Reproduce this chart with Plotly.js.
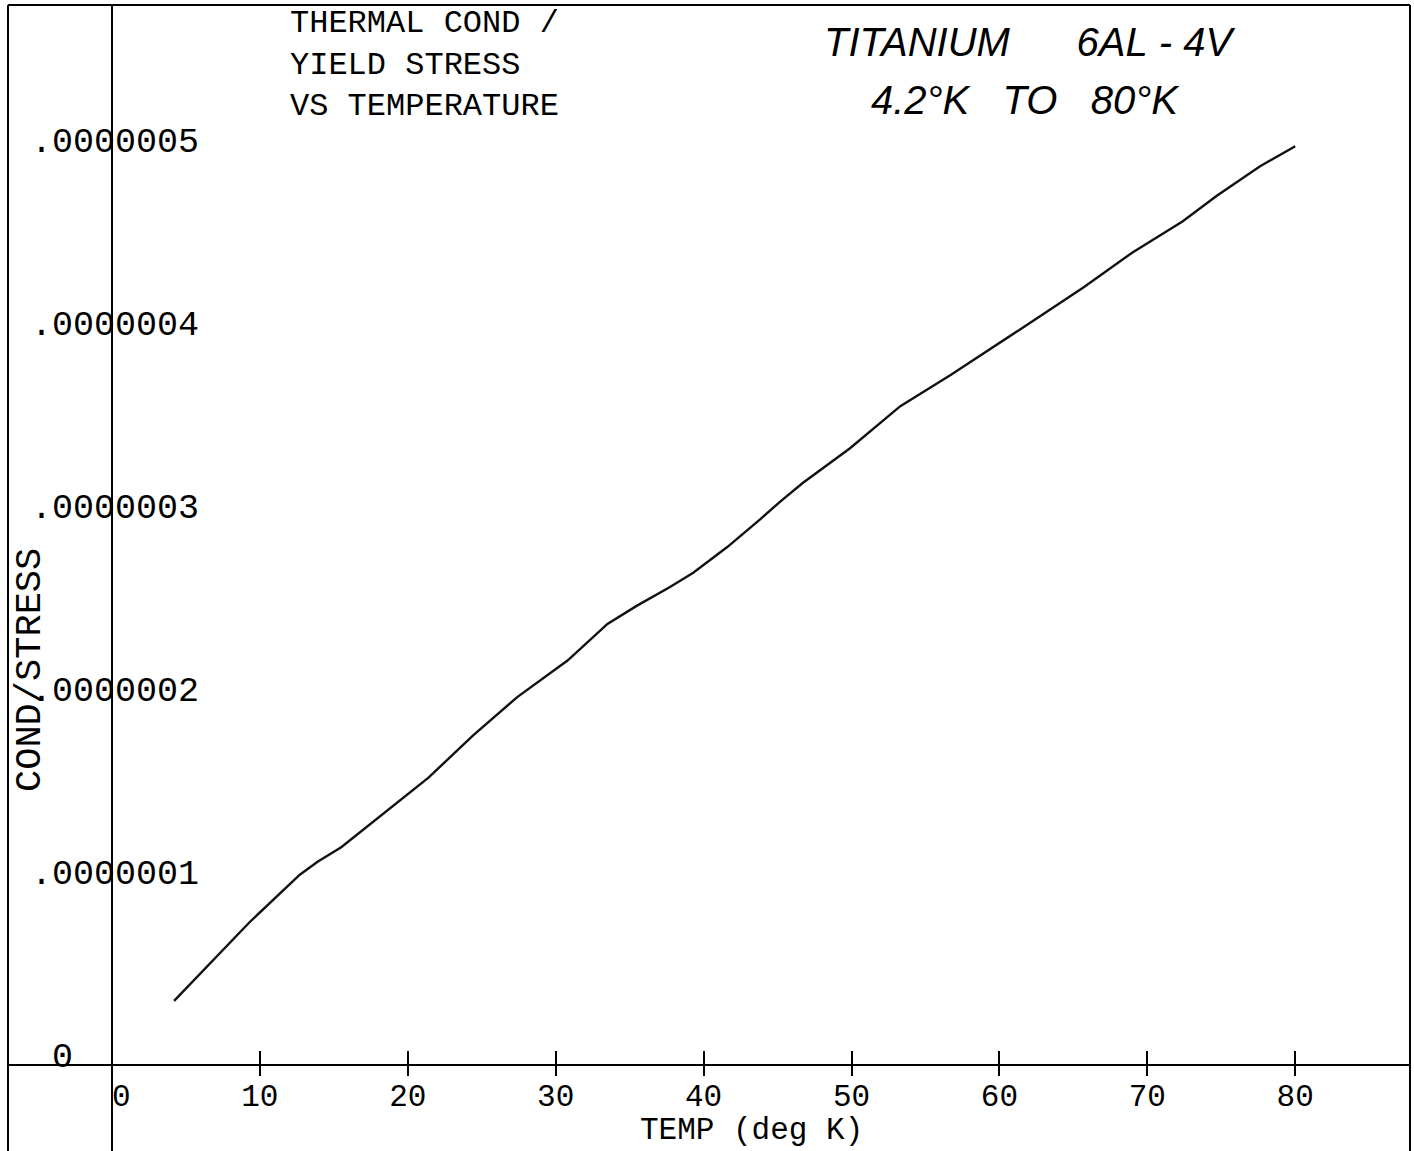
<!DOCTYPE html>
<html><head><meta charset="utf-8">
<script src="https://cdn.plot.ly/plotly-3.0.1.min.js"></script>
<style>html,body{margin:0;padding:0;background:#fff}#chart{width:1414px;height:1151px}</style>
</head><body><div id="chart"></div>
<script>
// ---- data ----
const TEMP_K = [4.2, 9.3, 12.7, 13.9, 15.5, 18.3, 21.4, 24.4, 27.4, 30.8, 33.5, 35.5, 37.7, 39.3, 41.6, 43.8, 45.2, 46.7, 49.9, 53.3, 56.7, 61.6, 65.7, 69.0, 72.4, 74.7, 77.6, 80.0];
const COND_PER_STRESS = [3.5e-8, 7.8e-8, 1.04e-7, 1.11e-7, 1.19e-7, 1.37e-7, 1.57e-7, 1.80e-7, 2.01e-7, 2.21e-7, 2.41e-7, 2.51e-7, 2.61e-7, 2.69e-7, 2.83e-7, 2.98e-7, 3.08e-7, 3.18e-7, 3.37e-7, 3.60e-7, 3.77e-7, 4.03e-7, 4.25e-7, 4.44e-7, 4.61e-7, 4.75e-7, 4.91e-7, 5.02e-7];
const X_TICK_VALS = [0, 10, 20, 30, 40, 50, 60, 70, 80];
const X_TICK_TEXT = ["\u00a00", "10", "20", "30", "40", "50", "60", "70", "80"];
const Y_TICK_VALS = [0, 1e-7, 2e-7, 3e-7, 4e-7, 5e-7];
const Y_TICK_TEXT = ["0\u00a0\u00a0\u00a0\u00a0\u00a0\u00a0", ".0000001", ".0000002", ".0000003", ".0000004", ".0000005"];
const TITLE_LINES = ["THERMAL COND /", "YIELD STRESS", "VS TEMPERATURE"];
const NOTE_LINES = ["TITANIUM\u00a0\u00a0\u00a0\u00a0\u00a0\u00a06AL\u00a0-\u00a04V", "4.2°K\u00a0\u00a0\u00a0TO\u00a0\u00a0\u00a080°K"];
const X_TITLE = "TEMP (deg K)";
const Y_TITLE = "COND/STRESS";

// ---- layout ----
const W = 1414, H = 1151;
const M = {l: 8, r: 4, t: 5, b: 0, pad: 0};
const PW = W - M.l - M.r, PH = H - M.t - M.b;
const xRange = [-7.03, 87.76];
const yRange = [-4.70e-8, 5.792e-7];
const xAxisPos = (0 - yRange[0]) / (yRange[1] - yRange[0]);
const yAxisPos = (0 - xRange[0]) / (xRange[1] - xRange[0]);
const px = v => (v - M.l) / PW;
const py = v => (H - M.b - v) / PH;

const MONO = "Liberation Mono, DejaVu Sans Mono, monospace";
const HAND = "Liberation Sans, DejaVu Sans, sans-serif";

const traces = [
  {x: TEMP_K, y: COND_PER_STRESS, type: 'scatter', mode: 'lines',
   line: {color: '#111', width: 2.4}, hoverinfo: 'x+y', showlegend: false},
  {x: [], y: [], xaxis: 'x2', yaxis: 'y', type: 'scatter', mode: 'lines', showlegend: false, hoverinfo: 'skip'},
  {x: [], y: [], xaxis: 'x', yaxis: 'y2', type: 'scatter', mode: 'lines', showlegend: false, hoverinfo: 'skip'}
];

const layout = {
  width: W, height: H, margin: M,
  paper_bgcolor: '#fff', plot_bgcolor: '#fff',
  showlegend: false,
  title: {text: TITLE_LINES.join('<br>'), x: 290 / W, xref: 'container', xanchor: 'left',
          y: 1 - 32 / H, yref: 'container', yanchor: 'top',
          font: {family: MONO, size: 32, color: '#000'}},
  xaxis: {range: xRange, anchor: 'free', position: xAxisPos,
          showline: true, linecolor: '#000', linewidth: 2,
          ticks: 'outside', ticklen: 10, tickwidth: 2, tickcolor: '#000',
          tickvals: X_TICK_VALS, ticktext: X_TICK_TEXT, ticklabelstandoff: -7,
          tickfont: {family: MONO, size: 31, color: '#000'},
          showgrid: false, zeroline: false, fixedrange: true},
  xaxis2: {matches: 'x', overlaying: 'x', anchor: 'free', position: xAxisPos,
           showline: false, ticks: 'inside', ticklen: 14, tickwidth: 2, tickcolor: '#000',
           tickvals: X_TICK_VALS.slice(1), showticklabels: false,
           showgrid: false, zeroline: false, fixedrange: true},
  yaxis: {range: yRange, anchor: 'free', position: px(199), side: 'left',
          showgrid: false, zeroline: false, showline: false, ticks: '',
          tickvals: Y_TICK_VALS, ticktext: Y_TICK_TEXT,
          tickfont: {family: MONO, size: 35, color: '#000'},
          ticklabelposition: 'outside', ticklabelshift: -10,
          fixedrange: true},
  yaxis2: {matches: 'y', overlaying: 'y', anchor: 'free', position: yAxisPos,
           showline: true, linecolor: '#000', linewidth: 2, ticks: '',
           showticklabels: false, showgrid: false, zeroline: false, fixedrange: true},
  shapes: [
    {type: 'line', xref: 'paper', yref: 'paper', x0: 0, x1: 0, y0: -0.01, y1: 1, line: {color: '#000', width: 2}},
    {type: 'line', xref: 'paper', yref: 'paper', x0: 0, x1: 1, y0: 1, y1: 1, line: {color: '#000', width: 2}},
    {type: 'line', xref: 'paper', yref: 'paper', x0: 1, x1: 1, y0: -0.01, y1: 1, line: {color: '#000', width: 2}}
  ],
  annotations: [
    {text: X_TITLE, xref: 'paper', yref: 'paper', x: px(751), y: py(1150), xanchor: 'center', yanchor: 'bottom',
     showarrow: false, font: {family: MONO, size: 31, color: '#000'}},
    {text: Y_TITLE, xref: 'paper', yref: 'paper', x: px(30), y: py(670), xanchor: 'center', yanchor: 'middle',
     textangle: -90, showarrow: false, font: {family: MONO, size: 37, color: '#000'}},
    {text: NOTE_LINES[0], xref: 'paper', yref: 'paper', x: px(1030), y: py(42), xanchor: 'center', yanchor: 'middle',
     showarrow: false, font: {family: HAND, size: 40, style: 'italic', color: '#000'}},
    {text: NOTE_LINES[1], xref: 'paper', yref: 'paper', x: px(1025), y: py(100), xanchor: 'center', yanchor: 'middle',
     showarrow: false, font: {family: HAND, size: 40, style: 'italic', color: '#000'}}
  ]
};

Plotly.newPlot('chart', traces, layout, {displayModeBar: false, staticPlot: true});
</script></body></html>
